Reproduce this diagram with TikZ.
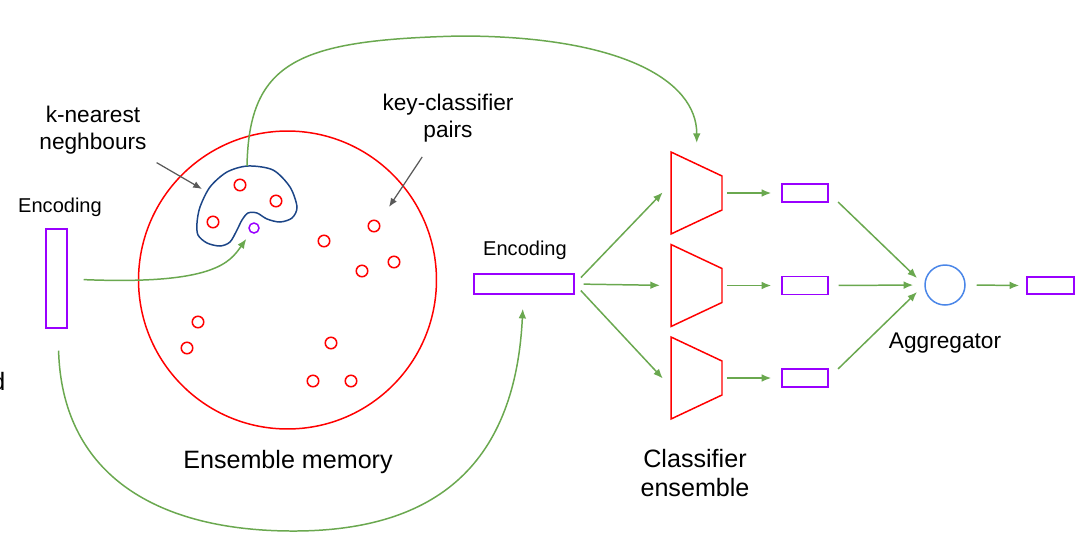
\documentclass[tikz,border=0pt]{standalone}
\usepackage{fontspec}
\setmainfont{Liberation Sans}
\usetikzlibrary{arrows.meta}
\definecolor{flowgreen}{HTML}{6AA84F}
\definecolor{keyred}{HTML}{FF0000}
\definecolor{vecpurple}{HTML}{9900FF}
\definecolor{aggblue}{HTML}{4A86E8}
\definecolor{blobblue}{HTML}{1C4587}
\definecolor{pointgray}{HTML}{595959}
\begin{document}
\begin{tikzpicture}[x=0.02cm, y=-0.02cm, line width=0.85pt,
    flow/.style={draw=flowgreen, -{Latex[length=5.5pt,width=4.4pt]}},
    pointer/.style={draw=pointgray, line width=0.7pt, -{Latex[length=5pt,width=4pt]}},
    keydot/.style={circle, draw=keyred, minimum size=0.23cm, inner sep=0pt},
    vecbox/.style={rectangle, draw=vecpurple, inner sep=0pt},
    slot/.style={minimum width=1.02cm, minimum height=1.64cm, inner sep=0pt, outer sep=0pt},
    clf/.style={draw=keyred, line join=miter},
    biglabel/.style={font=\fontsize{14.3}{17}\selectfont, align=center},
    midlabel/.style={font=\fontsize{12.9}{15.3}\selectfont, align=center},
    smalllabel/.style={font=\fontsize{11.4}{13.6}\selectfont}]
  \useasboundingbox (0,0) rectangle (1090,552);

  % ensemble memory
  \node[circle, draw=keyred, minimum size=5.96cm, inner sep=0pt] (mem) at (287.5,280) {};
  \draw
    (240,185) node[keydot] (k1) {}
    (276,201) node[keydot] (k2) {}
    (213,222) node[keydot] (k3) {}
    (324,241) node[keydot] (k4) {}
    (374,226) node[keydot] (k5) {}
    (362,271) node[keydot] (k6) {}
    (394,262) node[keydot] (k7) {}
    (198,322) node[keydot] (k8) {}
    (187,348) node[keydot] (k9) {}
    (331,343) node[keydot] (k10) {}
    (313,381) node[keydot] (k11) {}
    (351,381) node[keydot] (k12) {};
  \node[circle, draw=vecpurple, minimum size=0.2cm, inner sep=0pt] (q) at (254,228) {};
  \draw[blobblue] plot[smooth cycle] coordinates {
    (248,166) (273,170) (290,187) (297,207) (292,218) (280,222) (267,219)
    (257,213) (248,213) (242,220) (237,230) (230,242) (220,246) (207,243)
    (198,235) (197,223) (200,207) (210,187) (227,172)};
  \coordinate (blobtop) at (247,166);
  \coordinate (knnpt) at (202,189);
  \coordinate (keypt) at (389,207);

  % labels
  \node[midlabel] (knnlab) at (93,130) {k-nearest\\neghbours};
  \node[midlabel] (keylab) at (448,118) {key-classifier\\pairs};
  \node[biglabel] (memlab) at (288,462) {Ensemble memory};
  \node[smalllabel] (enclab1) at (60,207) {Encoding};
  \node[smalllabel] (enclab2) at (525,250) {Encoding};
  \node[biglabel] (clflab) at (695,473) {Classifier\\ensemble};
  \node[midlabel] (agglab) at (945,343) {Aggregator};
  \node[biglabel, anchor=base east, inner sep=0pt] (cut) at (6,390) {d};

  % vectors and aggregator
  \node[vecbox, minimum width=0.42cm, minimum height=1.98cm] (enc1) at (56.5,278.5) {};
  \node[vecbox, minimum width=2cm, minimum height=0.4cm] (enc2) at (524,284) {};
  \node[vecbox, minimum width=0.92cm, minimum height=0.36cm] (o1) at (805,193) {};
  \node[vecbox, minimum width=0.92cm, minimum height=0.36cm] (o2) at (805,285.5) {};
  \node[vecbox, minimum width=0.92cm, minimum height=0.36cm] (o3) at (805,378) {};
  \node[vecbox, minimum width=0.94cm, minimum height=0.34cm] (fin) at (1050.5,285.5) {};
  \node[circle, draw=aggblue, minimum size=0.8cm, inner sep=0pt] (agg) at (945,285) {};

  % classifiers
  \node[slot] (c1) at (696.5,193) {};
  \node[slot] (c2) at (696.5,285.5) {};
  \node[slot] (c3) at (696.5,378) {};
  \draw[clf] (c1.north west) -- (c1.south west) -- ([yshift=0.48cm]c1.south east) -- ([yshift=-0.48cm]c1.north east) -- cycle;
  \draw[clf] (c2.north west) -- (c2.south west) -- ([yshift=0.48cm]c2.south east) -- ([yshift=-0.48cm]c2.north east) -- cycle;
  \draw[clf] (c3.north west) -- (c3.south west) -- ([yshift=0.48cm]c3.south east) -- ([yshift=-0.48cm]c3.north east) -- cycle;

  % connectors
  \draw[flow, shorten <=0.32cm, shorten >=0.15cm] (enc1) .. controls (215,285) and (230,262) .. (q);
  \draw[flow, shorten <=0.44cm, shorten >=0.28cm] (enc1) .. controls (62,470) and (150,530) .. (290,531)
    .. controls (430,532) and (515,470) .. (enc2);
  \draw[flow, shorten >=0.18cm] (blobtop) .. controls (249,60) and (300,40) .. (460,36)
    .. controls (620,36) and (697,80) .. (c1);
  \draw[flow, shorten <=0.18cm, shorten >=0.24cm] (enc2.east) -- (c1.160);
  \draw[flow, shorten <=0.18cm, shorten >=0.22cm] (enc2.east) -- (c2.west);
  \draw[flow, shorten <=0.18cm, shorten >=0.24cm] (enc2.east) -- (c3.200);
  \draw[flow, shorten <=0.1cm, shorten >=0.2cm] (c1.east) -- (o1.west);
  \draw[flow, shorten <=0.1cm, shorten >=0.2cm] (c2.east) -- (o2.west);
  \draw[flow, shorten <=0.1cm, shorten >=0.2cm] (c3.east) -- (o3.west);
  \draw[flow, shorten <=0.26cm, shorten >=0.2cm] (o1.east) -- (agg.west);
  \draw[flow, shorten <=0.2cm, shorten >=0.22cm] (o2.east) -- (agg.west);
  \draw[flow, shorten <=0.26cm, shorten >=0.2cm] (o3.east) -- (agg.west);
  \draw[flow, shorten <=0.22cm, shorten >=0.14cm] (agg.east) -- (fin.west);
  \draw[pointer, shorten <=0.08cm] (knnlab.south east) -- (knnpt);
  \draw[pointer, shorten <=0.2cm] (keylab) -- (keypt);
\end{tikzpicture}
\end{document}
